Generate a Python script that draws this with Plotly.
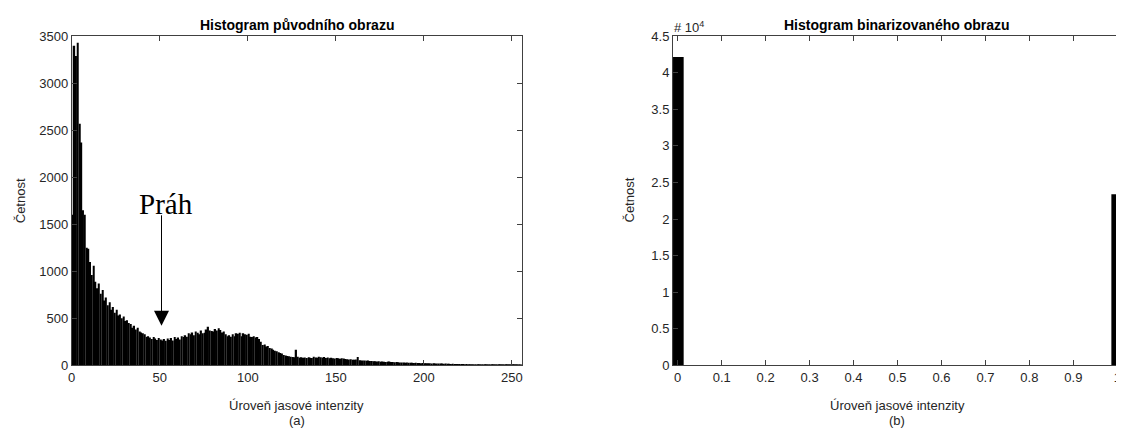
import plotly.graph_objects as go

# ---------------- data ----------------
levels = list(range(256))
counts = [
    1600, 3400, 3290, 3430, 2570, 2370, 1650, 1600, 1250, 1240,
    1100, 960, 1060, 890, 820, 870, 760, 800, 690, 720,
    640, 670, 590, 620, 560, 590, 530, 540, 500, 520,
    470, 480, 450, 440, 400, 420, 380, 400, 360, 350,
    340, 330, 300, 310, 295, 280, 300, 285, 270, 290,
    275, 265, 280, 260, 285, 270, 290, 265, 300, 280,
    295, 275, 310, 300, 320, 305, 340, 330, 350, 320,
    360, 345, 330, 370, 340, 345, 380, 410, 370, 365,
    360, 385, 370, 395, 375, 350, 360, 330, 310, 320,
    305, 330, 310, 340, 335, 345, 310, 340, 330, 325,
    335, 305, 300, 310, 295, 300, 280, 250, 215, 220,
    200, 205, 185, 180, 165, 155, 150, 140, 130, 125,
    110, 105, 100, 95, 90, 88, 85, 165, 90, 80,
    85, 80, 82, 78, 85, 80, 78, 90, 82, 80,
    92, 85, 80, 88, 78, 82, 75, 80, 76, 72,
    78, 74, 70, 75, 72, 68, 65, 62, 64, 60,
    58, 62, 88, 55, 52, 50, 52, 48, 50, 46,
    45, 42, 44, 40, 42, 38, 40, 37, 36, 38,
    40, 36, 35, 33, 34, 32, 30, 31, 30, 28,
    29, 27, 28, 26, 25, 26, 24, 25, 23, 24,
    22, 23, 21, 22, 20, 21, 19, 20, 18, 19,
    18, 17, 18, 16, 17, 15, 16, 15, 14, 15,
    14, 13, 13, 12, 13, 12, 11, 12, 11, 10,
    10, 11, 10, 9, 10, 9, 8, 9, 8, 8,
    7, 8, 7, 7, 6, 7, 6, 6, 5, 6,
    5, 5, 4, 5, 4, 5,
]

bin_levels = [0, 1]
bin_counts = [42150, 23386]

left_yticks = [0, 500, 1000, 1500, 2000, 2500, 3000, 3500]
left_xticks = [0, 50, 100, 150, 200, 250]
right_yticks = [0, 5000, 10000, 15000, 20000, 25000, 30000, 35000, 40000, 45000]
right_yticktext = ["0", "0.5", "1", "1.5", "2", "2.5", "3", "3.5", "4", "4.5"]
right_xticks = [0, 0.1, 0.2, 0.3, 0.4, 0.5, 0.6, 0.7, 0.8, 0.9, 1]
right_xticktext = ["0", "0.1", "0.2", "0.3", "0.4", "0.5", "0.6", "0.7", "0.8", "0.9", "1"]

threshold_level = 51
arrow_tip_value = 420

# ---------------- layout helpers ----------------
# the page body has an 8px margin, so the figure is drawn 8px in from the window corner
OFF = 8
W, H = 1124 - OFF, 437 - OFF
def px(p):
    return (p - OFF) / W
def py(p):
    return 1 - (p - OFF) / H

FONT = "Liberation Sans, Arial, sans-serif"
AX = "#262626"
LINE = "#404040"

fig = go.Figure()
# each intensity bin drawn over [k, k+1] like the original histogram
fig.add_trace(go.Bar(x=levels, y=counts, width=0.88, offset=0.06,
                     marker=dict(color="black", line=dict(width=0)),
                     xaxis="x", yaxis="y", showlegend=False))
fig.add_trace(go.Bar(x=bin_levels, y=bin_counts, width=0.027,
                     marker=dict(color="black", line=dict(width=0)),
                     xaxis="x2", yaxis="y2", showlegend=False))

axis_common = dict(showline=True, linecolor=LINE, linewidth=1, mirror="ticks",
                   ticks="inside", ticklen=5, tickcolor=LINE, tickwidth=1,
                   showgrid=False, zeroline=False,
                   tickfont=dict(family=FONT, size=13, color=AX))

ydom = [py(371), py(30)]
fig.update_layout(
    width=W, height=H,
    margin=dict(l=0, r=0, t=0, b=0),
    paper_bgcolor="white", plot_bgcolor="white",
    xaxis=dict(domain=[px(68), px(520)], range=[0, 255.6], tickvals=left_xticks,
               anchor="y", **axis_common),
    yaxis=dict(domain=ydom, range=[0, 3500], tickvals=left_yticks,
               anchor="x", **axis_common),
    xaxis2=dict(domain=[px(672), px(1123)], range=[-0.0107, 1.0107],
                tickvals=right_xticks, ticktext=right_xticktext,
                anchor="y2", **axis_common),
    yaxis2=dict(domain=ydom, range=[0, 45000], tickvals=right_yticks,
                ticktext=right_yticktext, anchor="x2", **axis_common),
)

def ann(text, x, y, size=13, bold=False, angle=0, xanchor="center", yanchor="middle", family=FONT):
    fig.add_annotation(text=f"<b>{text}</b>" if bold else text,
                       x=px(x), y=py(y), xref="paper", yref="paper",
                       xanchor=xanchor, yanchor=yanchor, showarrow=False,
                       textangle=angle, font=dict(family=family, size=size, color=AX if not bold else "black"))

ann("Histogram původního obrazu", 294, 18, size=14, bold=True)
ann("Histogram binarizovaného obrazu", 897, 18, size=14, bold=True)
ann("Úroveň jasové intenzity", 294, 413)
ann("(a)", 294, 428)
ann("Úroveň jasové intenzity", 897, 413)
ann("(b)", 897, 428)
ann("Četnost", 16, 200, angle=-90)
ann("Četnost", 628, 200, angle=-90)
ann("# 10<sup>4</sup>", 671, 31, xanchor="left", yanchor="bottom")

# threshold arrow and label
fig.add_annotation(x=threshold_level, y=arrow_tip_value, xref="x", yref="y",
                   ax=0, ay=-112, axref="pixel", ayref="pixel", text="",
                   showarrow=True, arrowhead=2, arrowsize=3, arrowwidth=1,
                   arrowcolor="black")
fig.add_annotation(x=threshold_level + 2.5, y=1720, xref="x", yref="y", text="Práh",
                   showarrow=False, font=dict(family="Liberation Serif, Times New Roman, serif",
                                              size=29, color="black"))

fig.write_html("out.html")
